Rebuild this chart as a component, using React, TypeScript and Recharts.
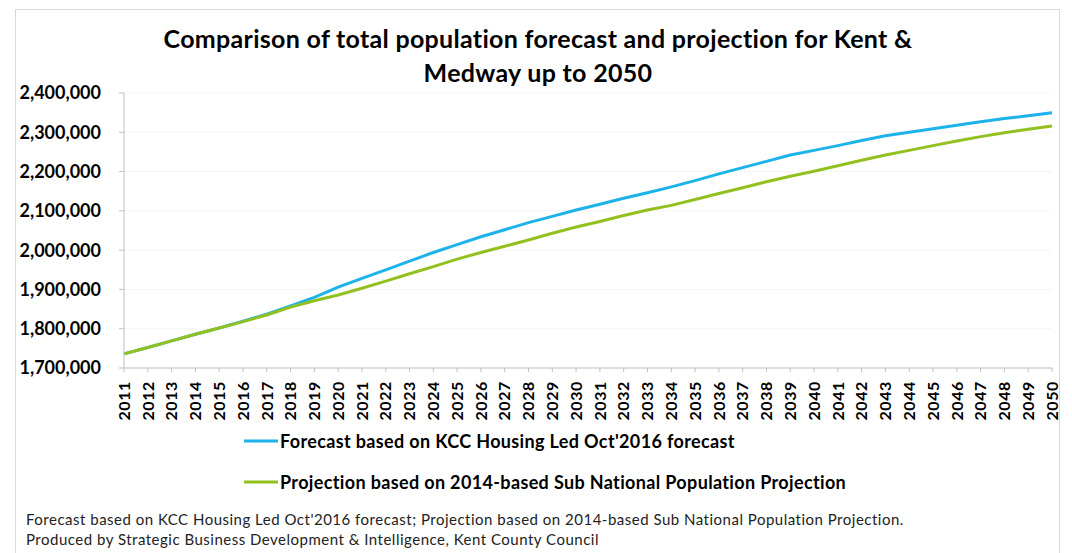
import { CartesianGrid, Legend, Line, LineChart, XAxis, YAxis } from 'recharts'

const years = [
  '2011', '2012', '2013', '2014', '2015', '2016', '2017', '2018', '2019', '2020',
  '2021', '2022', '2023', '2024', '2025', '2026', '2027', '2028', '2029', '2030',
  '2031', '2032', '2033', '2034', '2035', '2036', '2037', '2038', '2039', '2040',
  '2041', '2042', '2043', '2044', '2045', '2046', '2047', '2048', '2049', '2050',
]

// KCC housing led forecast
const forecast = [
  1736000, 1752000, 1769000, 1786000, 1802000, 1819000, 1837000, 1858000, 1880000, 1906000,
  1928000, 1950000, 1972000, 1994000, 2014000, 2034000, 2052000, 2070000, 2086000, 2102000,
  2117000, 2132000, 2146000, 2161000, 2177000, 2194000, 2210000, 2226000, 2242000, 2254000,
  2266000, 2279000, 2291000, 2300000, 2309000, 2318000, 2327000, 2335000, 2342000, 2350000,
]

// 2014-based SNPP
const projection = [
  1736000, 1752000, 1769000, 1786000, 1802000, 1818000, 1835000, 1855000, 1871000, 1886000,
  1903000, 1921000, 1940000, 1958000, 1977000, 1994000, 2010000, 2026000, 2043000, 2059000,
  2073000, 2088000, 2102000, 2114000, 2129000, 2144000, 2159000, 2174000, 2188000, 2201000,
  2215000, 2229000, 2242000, 2254000, 2266000, 2278000, 2289000, 2299000, 2308000, 2316000,
]

const yTicks = [1700000, 1800000, 1900000, 2000000, 2100000, 2200000, 2300000, 2400000]

const forecastName = "Forecast based on KCC Housing Led Oct'2016 forecast"
const projectionName = 'Projection based on 2014-based Sub National Population Projection'

const data = years.map((year, i) => ({
  year,
  forecast: forecast[i],
  projection: projection[i],
}))

const font = 'Lato, "Open Sans", sans-serif'
const blue = '#1cb3ea'
const green = '#92c01f'
const axisGrey = '#bfbfbf'

const YearTick = ({ x, y, payload }: any) => (
  <text
    x={x}
    y={y}
    transform={`rotate(-90 ${x} ${y})`}
    textAnchor="end"
    dy="0.36em"
    fontFamily={font}
    fontWeight={700}
    fontSize={16}
    letterSpacing={0.6}
    fill="#000"
  >
    {payload.value}
  </text>
)

const LegendList = ({ payload }: any) => (
  <div>
    {(payload || []).map((entry: any) => (
      <div
        key={entry.value}
        style={{ display: 'flex', alignItems: 'center', height: 41 }}
      >
        <svg width={34} height={10}>
          <line x1={0} y1={5} x2={34} y2={5} stroke={entry.color} strokeWidth={3} />
        </svg>
        <span
          style={{
            fontFamily: font,
            fontWeight: 700,
            fontSize: 18,
            letterSpacing: 0.35,
            color: '#000',
            marginLeft: 2,
            whiteSpace: 'nowrap',
          }}
        >
          {entry.value}
        </span>
      </div>
    ))}
  </div>
)

export default function App() {
  return (
    <div
      style={{
        position: 'absolute',
        left: 0,
        top: 0,
        width: 1072,
        height: 553,
        background: '#fff',
        overflow: 'hidden',
      }}
    >
      <div
        style={{
          position: 'absolute',
          left: 15,
          top: 9,
          width: 1043,
          height: 560,
          border: '1px solid #d9d9d9',
        }}
      />
      <div
        style={{
          position: 'absolute',
          left: 0,
          top: 21,
          width: 1076,
          textAlign: 'center',
          fontFamily: font,
          fontWeight: 700,
          fontSize: 25,
          letterSpacing: 0.3,
          lineHeight: '34px',
          color: '#000',
        }}
      >
        Comparison of total population forecast and projection for Kent &amp;
        <br />
        Medway up to 2050
      </div>
      <LineChart
        width={1072}
        height={553}
        data={data}
        margin={{ top: 93, right: 20, bottom: 125, left: 0 }}
        style={{ position: 'absolute', left: 0, top: 0 }}
      >
        <CartesianGrid vertical={false} stroke="#f5f5f5" />
        <XAxis
          dataKey="year"
          interval={0}
          height={60}
          stroke={axisGrey}
          tickSize={4}
          tickMargin={9}
          tick={<YearTick />}
        />
        <YAxis
          width={124}
          domain={[1700000, 2400000]}
          ticks={yTicks}
          stroke={axisGrey}
          tickSize={5}
          tickMargin={18}
          tickFormatter={(v: number) => v.toLocaleString('en-US')}
          tick={{ fill: '#000', fontFamily: font, fontWeight: 700, fontSize: 18 }}
        />
        <Legend
          layout="vertical"
          align="center"
          verticalAlign="middle"
          wrapperStyle={{ left: 244, top: 420 }}
          content={<LegendList />}
        />
        <Line
          dataKey="forecast"
          name={forecastName}
          stroke={blue}
          strokeWidth={3}
          dot={false}
          isAnimationActive={false}
        />
        <Line
          dataKey="projection"
          name={projectionName}
          stroke={green}
          strokeWidth={3}
          dot={false}
          isAnimationActive={false}
        />
      </LineChart>
      <div
        style={{
          position: 'absolute',
          left: 26,
          top: 509,
          fontFamily: font,
          fontSize: 15,
          letterSpacing: 0.5,
          lineHeight: '20px',
          color: '#222',
          whiteSpace: 'nowrap',
        }}
      >
        Forecast based on KCC Housing Led Oct'2016 forecast; Projection based on 2014-based Sub National
        Population Projection.
        <br />
        Produced by Strategic Business Development &amp; Intelligence, Kent County Council
      </div>
    </div>
  )
}
